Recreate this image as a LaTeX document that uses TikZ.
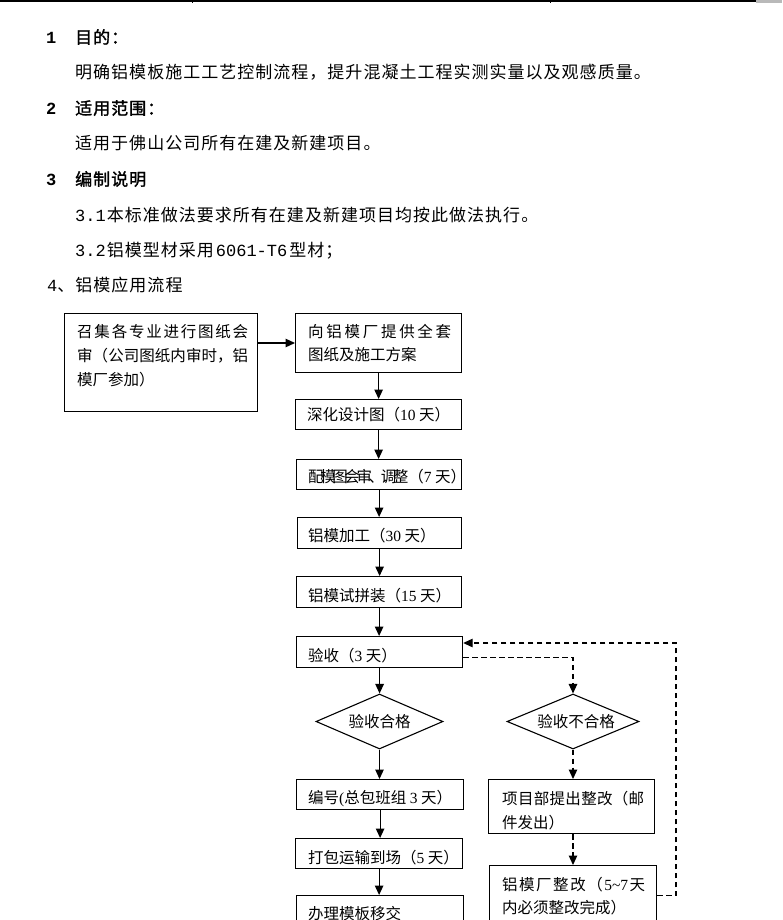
\documentclass[tikz,border=0pt]{standalone}
\usepackage{fontspec}
\setmainfont{Noto Sans CJK SC}
\newfontfamily\bodyf[LetterSpace=6]{Noto Sans CJK SC}
\newfontfamily\headf[FakeBold=1.6,LetterSpace=6]{Noto Sans CJK SC}
\newfontfamily\monof[Scale=1.0]{Liberation Mono}
\newfontfamily\lat{Liberation Serif}
\newfontfamily\cond[LetterSpace=-22]{Noto Sans CJK SC}
\usetikzlibrary{arrows.meta,shapes.geometric}
\makeatletter
\def\spr@loop#1#2\spr@end{#1\ifx\relax#2\relax\else\hfill\spr@loop#2\spr@end\fi}
\newcommand\spread[2]{\hbox to #1{\spr@loop#2\spr@end}}
\makeatother
\tikzset{
  box/.style={draw, line width=1.2pt, rectangle, inner sep=0pt, anchor=north west},
  dia/.style={draw, line width=1.1pt, diamond, inner sep=0pt, shape aspect=2.35,
    font=\fontsize{15.5}{20}\selectfont},
  ftxt/.style={anchor=base west, inner sep=0pt, align=left,
    font=\fontsize{15.5}{24}\selectfont},
  btxt/.style={anchor=base west, inner sep=0pt, font=\bodyf\fontsize{17}{20}\selectfont},
  hdtxt/.style={anchor=base west, inner sep=0pt, font=\headf\fontsize{17}{20}\selectfont},
  arr/.style={-{Triangle[length=9.5pt,width=8.5pt]}, line width=1.2pt},
  darr/.style={arr, dash pattern=on 5.5pt off 3.5pt},
}
\begin{document}
\begin{tikzpicture}[x=1pt,y=-1pt]
\useasboundingbox (0,0) rectangle (782,920);
% header rule
\draw[line width=2pt] (0,1) -- (756,1);
\fill[gray!55] (756,0) rectangle (782,3.5);
\draw[line width=1pt] (192,0) -- (192,3);
\draw[line width=1pt] (550,0) -- (550,3);

% text section
\node[hdtxt] (n1) at (46,43.5) {{\monof\bfseries 1}};
\node[hdtxt] (h1) at (75,43.5) {目的：};
\node[btxt] (t1) at (75,78.5) {明确铝模板施工工艺控制流程，提升混凝土工程实测实量以及观感质量。};
\node[hdtxt] (n2) at (46,114.5) {{\monof\bfseries 2}};
\node[hdtxt] (h2) at (75,114.5) {适用范围：};
\node[btxt] (t2) at (75,149.5) {适用于佛山公司所有在建及新建项目。};
\node[hdtxt] (n3) at (46,185.5) {{\monof\bfseries 3}};
\node[hdtxt] (h3) at (75,185.5) {编制说明};
\node[btxt] (t31) at (75,221.5) {{\monof 3.1}\kern1pt 本标准做法要求所有在建及新建项目均按此做法执行。};
\node[btxt] (t32) at (75,256.5) {{\monof 3.2}\kern1pt 铝模型材采用\kern2pt{\monof 6061-T6}\kern2pt 型材；};
\node[btxt] (h4) at (47,291.5) {{\monof 4}、铝模应用流程};

% boxes
\node[box, minimum width=193, minimum height=98] (A) at (64,313) {};
\node[box, minimum width=166, minimum height=59] (B) at (295,313) {};
\node[box, minimum width=166, minimum height=30] (C) at (295,399) {};
\node[box, minimum width=165, minimum height=30] (D) at (296,459) {};
\node[box, minimum width=164, minimum height=31] (E) at (297,517) {};
\node[box, minimum width=165, minimum height=31] (F) at (296,576) {};
\node[box, minimum width=166, minimum height=31] (G) at (296,636) {};
\node[box, minimum width=167, minimum height=30] (H) at (296,779) {};
\node[box, minimum width=167, minimum height=30] (I) at (295,838) {};
\node[box, minimum width=167, minimum height=34] (J) at (296,895) {};
\node[box, minimum width=166, minimum height=54] (K) at (488,779) {};
\node[box, minimum width=167, minimum height=60] (L) at (489,865) {};
\node[dia, minimum width=127, minimum height=55] (P) at (379.5,721.5) {验收合格};
\node[dia, minimum width=132, minimum height=55] (N) at (573,721.5) {\kern6pt验收不合格};

% box texts (base anchor = baseline of the last line)
\node[ftxt] (At) at (77,385) {\spread{171pt}{召集各专业进行图纸会}\\\spread{171pt}{审（公司图纸内审时，铝}\\模厂参加）};
\node[ftxt, font=\fontsize{15.5}{23.5}\selectfont] (Bt) at (308,360.5) {\spread{143pt}{向铝模厂提供全套}\\图纸及施工方案};
\node[ftxt] (Ct) at (307,420) {深化设计图（{\lat 10} 天）};
\node[ftxt] (Dt) at (308,482.5) {{\cond 配模图会审、调整}（{\lat 7} 天）};
\node[ftxt] (Et) at (308,541) {铝模加工（{\lat 30} 天）};
\node[ftxt] (Ft) at (308,601) {铝模试拼装（{\lat 15} 天）};
\node[ftxt] (Gt) at (308,661) {验收（{\lat 3} 天）};
\node[ftxt] (Ht) at (308,803) {编号{\lat(}总包班组 {\lat 3} 天）};
\node[ftxt] (It) at (308,863) {打包运输到场（{\lat 5} 天）};
\node[ftxt] (Jt) at (308,919) {办理模板移交};
\node[ftxt] (Kt) at (502,828) {\spread{142pt}{项目部提出整改（邮}\\件发出）};
\node[ftxt, font=\fontsize{15.5}{23.5}\selectfont] (Lt) at (502,913.5) {\spread{143pt}{铝模厂整改（{{\lat 5\char"7E 7}}天}\\内必须整改完成）};

% solid connectors
\draw[arr] (A.east |- 0,343) -- (B.west |- 0,343);
\draw[arr] (B.south) -- (B.south |- C.north);
\draw[arr] (C.south) -- (C.south |- D.north);
\draw[arr] (D.south) -- (D.south |- E.north);
\draw[arr] (E.south) -- (E.south |- F.north);
\draw[arr] (F.south) -- (F.south |- G.north);
\draw[arr] (G.south) -- (G.south |- P.north);
\draw[arr] (P.south) -- (P.south |- H.north);
\draw[arr] (H.south) -- (H.south |- I.north);
\draw[arr] (I.south) -- (I.south |- J.north);

% dashed connectors
\draw[darr] ([yshift=-5.5pt]G.east) -| (N.north);
\draw[darr] (N.south) -- (N.south |- K.north);
\draw[darr] (N.south |- K.south) -- (N.south |- L.north);
\coordinate (fb) at (676,643);
\draw[darr] (L.east) -| (fb) -- (G.east |- fb);
\end{tikzpicture}
\end{document}
